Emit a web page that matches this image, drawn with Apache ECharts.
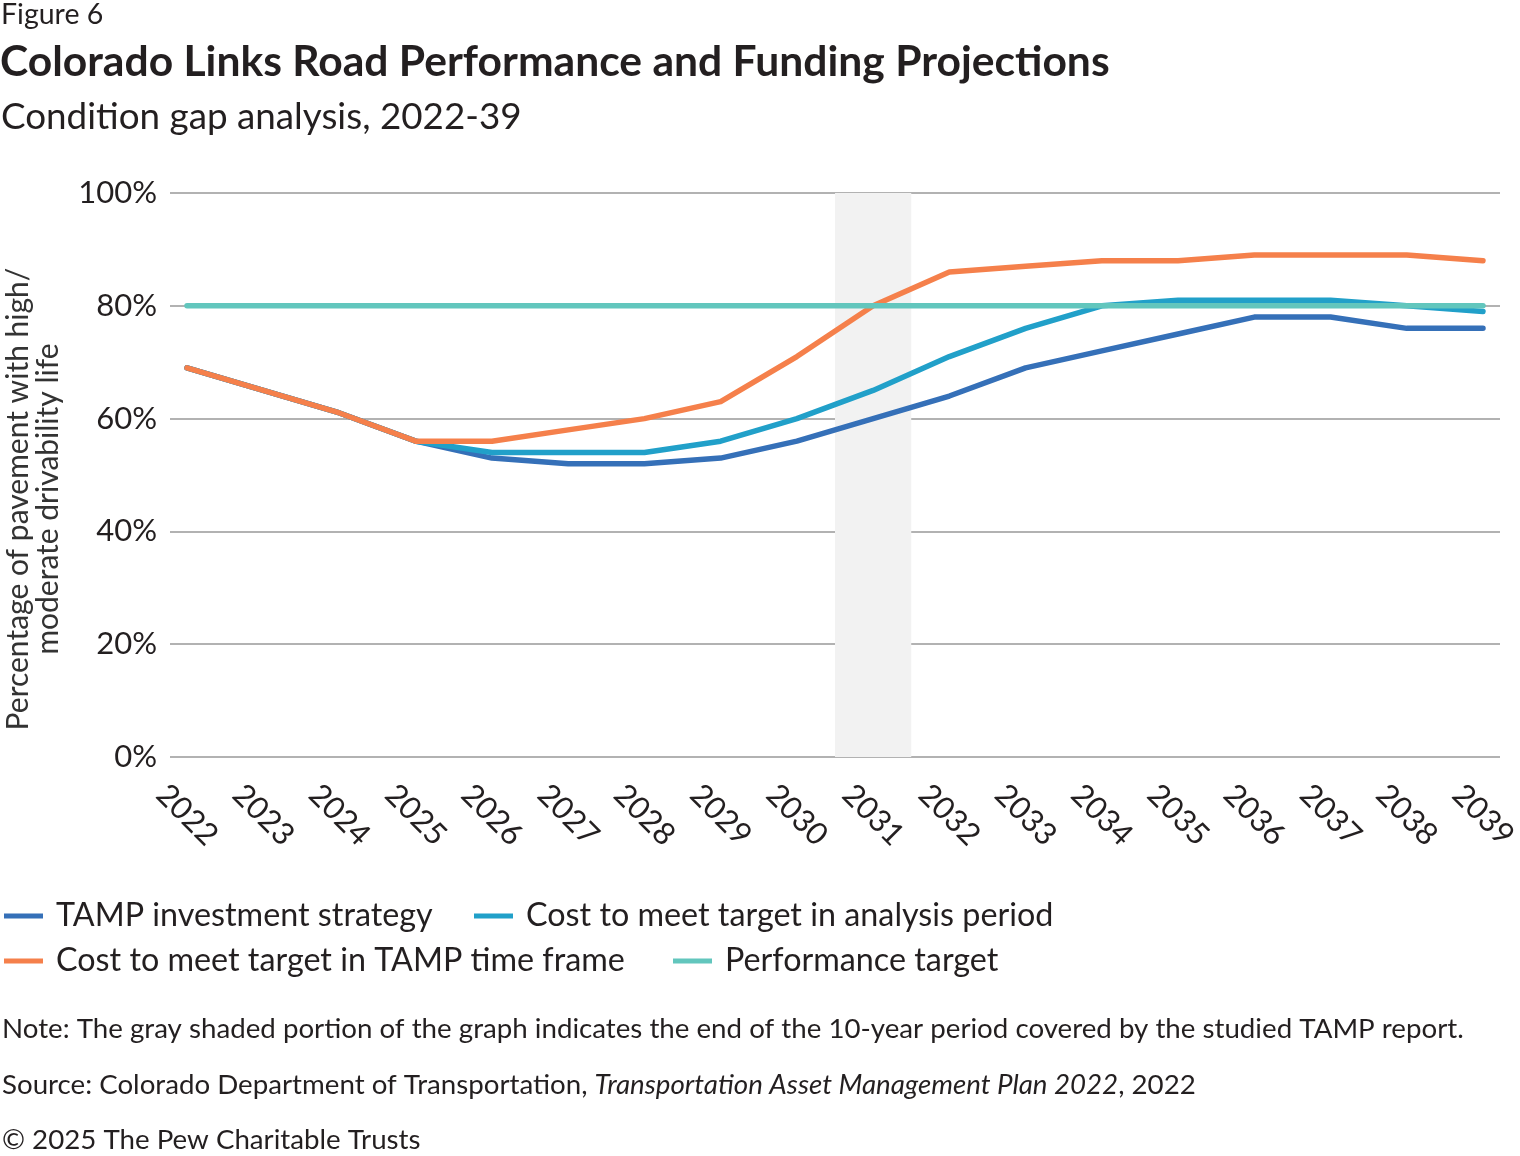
<!DOCTYPE html>
<html>
<head>
    <meta charset="UTF-8">
    <title>Colorado Links Road Performance and Funding Projections</title>
    <script src="https://cdn.jsdelivr.net/npm/echarts@6/dist/echarts.min.js"></script>
    <style>
        html, body { margin: 0; padding: 0; background: #fff; }
    </style>
</head>
<body>

<div id="main" style="width: 1520px;height:1156px"></div>

<script type="text/javascript">
    // data
    var years = [2022, 2023, 2024, 2025, 2026, 2027, 2028, 2029, 2030, 2031, 2032, 2033, 2034, 2035, 2036, 2037, 2038, 2039];
    var tampStrategy = [69, 65, 61, 56, 53, 52, 52, 53, 56, 60, 64, 69, 72, 75, 78, 78, 76, 76];
    var analysisPeriod = [69, 65, 61, 56, 54, 54, 54, 56, 60, 65, 71, 76, 80, 81, 81, 81, 80, 79];
    var tampTimeFrame = [69, 65, 61, 56, 56, 58, 60, 63, 71, 80, 86, 87, 88, 88, 89, 89, 89, 88];
    var target = [80, 80, 80, 80, 80, 80, 80, 80, 80, 80, 80, 80, 80, 80, 80, 80, 80, 80];
    var yTicks = [0, 20, 40, 60, 80, 100];
    var shadeFrom = 2030.5, shadeTo = 2031.5;

    var FONT = 'Lato';
    var TXT = '#231f20';

    function pairs(vals) {
        return years.map(function (y, i) { return [y, vals[i]]; });
    }

    function lineSeries(name, vals, color, z) {
        return {
            name: name,
            type: 'line',
            data: pairs(vals),
            symbol: 'none',
            z: z,
            lineStyle: { width: 5.5, color: color, cap: 'round', join: 'round' },
            itemStyle: { color: color }
        };
    }

    // one legend box per entry so each sits where the original has it
    function legendAt(name, left, top) {
        return {
            left: left, top: top,
            padding: 0,
            data: [name],
            icon: 'rect', itemWidth: 39, itemHeight: 5,
            textStyle: { fontSize: 32.3, color: TXT, fontFamily: FONT, padding: [0, 0, 0, 8] }
        };
    }

    function text(x, y, str, font) {
        return { type: 'text', x: x, y: y, style: { text: str, font: font, fill: TXT, verticalAlign: 'middle' } };
    }

    var myChart = echarts.init(document.getElementById('main'));

    var s1 = lineSeries('TAMP investment strategy', tampStrategy, '#3570b8', 3);
    s1.markArea = {
        silent: true,
        itemStyle: { color: '#f2f2f2' },
        data: [[{ xAxis: shadeFrom }, { xAxis: shadeTo }]]
    };

    var srcText = text(2, 1085, '', '');
    srcText.style = {
        text: '{n|Source: Colorado Department of Transportation, }{i|Transportation Asset Management Plan 2022}{n|, 2022}',
        verticalAlign: 'middle',
        rich: {
            n: { fontSize: 27.7, fontFamily: FONT, fill: TXT },
            i: { fontSize: 27.7, fontFamily: FONT, fontStyle: 'italic', fill: TXT }
        }
    };

    option = {
        animation: false,
        textStyle: { fontFamily: FONT },
        graphic: [
            text(1, 15, 'Figure 6', '28.5px ' + FONT),
            text(0, 62, 'Colorado Links Road Performance and Funding Projections', 'bold 42.6px ' + FONT),
            text(1, 117, 'Condition gap analysis, 2022-39', '36.8px ' + FONT),
            {
                type: 'text', x: 33, y: 499, rotation: Math.PI / 2,
                style: {
                    text: 'Percentage of pavement with high/\nmoderate drivability life',
                    font: '30px ' + FONT, fill: '#333', align: 'center', verticalAlign: 'middle', lineHeight: 30
                }
            },
            text(2, 1029, 'Note: The gray shaded portion of the graph indicates the end of the 10-year period covered by the studied TAMP report.', '27.7px ' + FONT),
            srcText,
            text(2, 1140, '\u00a9 2025 The Pew Charitable Trusts', '27.7px ' + FONT)
        ],
        legend: [
            legendAt('TAMP investment strategy', 4, 900),
            legendAt('Cost to meet target in analysis period', 474, 900),
            legendAt('Cost to meet target in TAMP time frame', 4, 945),
            legendAt('Performance target', 673, 945)
        ],
        grid: { left: 170, right: 20, top: 193, bottom: 399, outerBoundsMode: 'none' },
        xAxis: {
            type: 'value',
            min: 2021.777,
            max: 2039.223,
            axisLine: { show: false },
            axisTick: { show: false },
            splitLine: { show: false },
            axisLabel: {
                customValues: years,
                rotate: -45,
                align: 'center',
                verticalAlign: 'middle',
                margin: 58,
                fontSize: 31,
                color: TXT,
                fontFamily: FONT,
                formatter: function (v) { return String(v); }
            }
        },
        yAxis: {
            type: 'value',
            min: 0,
            max: 100,
            interval: 20,
            axisLine: { show: false },
            axisTick: { show: false },
            axisLabel: {
                margin: 13,
                fontSize: 31,
                color: TXT,
                fontFamily: FONT,
                formatter: function (v) { return yTicks.indexOf(v) >= 0 ? v + '%' : ''; }
            },
            splitLine: { lineStyle: { color: '#999', width: 1.5 } }
        },
        series: [
            s1,
            lineSeries('Cost to meet target in analysis period', analysisPeriod, '#21a0c9', 4),
            lineSeries('Cost to meet target in TAMP time frame', tampTimeFrame, '#f5804b', 5),
            lineSeries('Performance target', target, '#62c6bd', 6)
        ]
    };
    myChart.setOption(option);
</script>
</body>
</html>
